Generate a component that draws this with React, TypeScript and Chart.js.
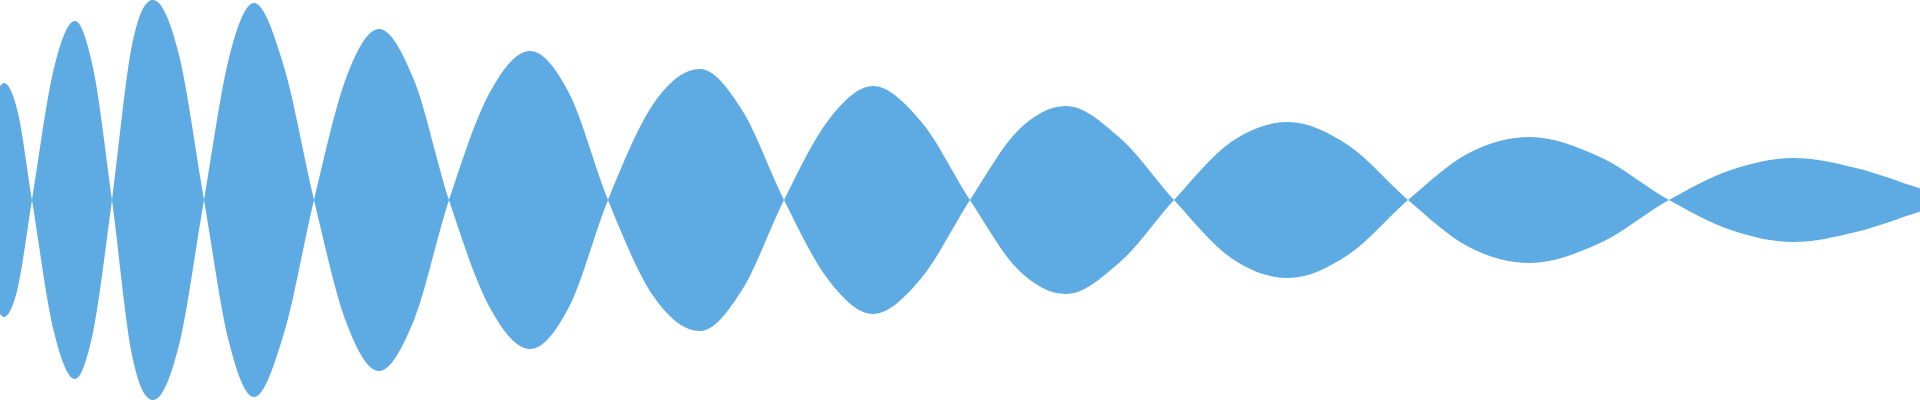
import React, { useEffect, useRef } from "react";
import { Chart, registerables } from "chart.js";

Chart.register(...registerables);

// Sample positions along the horizontal axis (crossings, half-way points and crests)
const positions: number[] = [
  0, 4, 18, 32,
  54, 75, 93.5, 112,
  132, 153, 178.5, 204,
  229, 254, 284, 314,
  346.5, 379, 414, 449,
  489.5, 530, 569, 608,
  654, 700, 742, 784,
  828.5, 873, 921.5, 970,
  1018.5, 1066, 1120, 1174,
  1231, 1288, 1348, 1408,
  1469, 1530, 1600, 1669,
  1731, 1793, 1856, 1920,
];

// Signed wave value at each position
const waveValues: number[] = [
  114, 117, 87, 0,
  -132, -179, -130, 0,
  155, 200, 147, 0,
  -142, -197, -133, 0,
  123, 171, 120, 0,
  -107, -149, -107, 0,
  97, 131, 90, 0,
  -80, -114, -78, 0,
  70, 94, 62, 0,
  -58, -78, -55, 0,
  47, 63, 43, 0,
  -30, -42, -32, -11.5,
];

const mirroredValues: number[] = waveValues.map((v) => -v);

const FILL_COLOR = "#5DABE2";

export default function App() {
  const canvasRef = useRef<HTMLCanvasElement | null>(null);

  useEffect(() => {
    if (!canvasRef.current) return;
    const toPoints = (vals: number[]) =>
      vals.map((v, i) => ({ x: positions[i], y: v }));
    const chart = new Chart(canvasRef.current, {
      type: "line",
      data: {
        datasets: [
          {
            label: "wave",
            data: toPoints(waveValues),
            fill: "origin",
            backgroundColor: FILL_COLOR,
            borderWidth: 0,
            borderColor: FILL_COLOR,
            pointRadius: 0,
            cubicInterpolationMode: "monotone",
          },
          {
            label: "mirror",
            data: toPoints(mirroredValues),
            fill: "origin",
            backgroundColor: FILL_COLOR,
            borderWidth: 0,
            borderColor: FILL_COLOR,
            pointRadius: 0,
            cubicInterpolationMode: "monotone",
          },
        ],
      },
      options: {
        animation: false,
        responsive: true,
        maintainAspectRatio: false,
        layout: { padding: 0 },
        plugins: {
          legend: { display: false },
          tooltip: { enabled: false },
        },
        scales: {
          x: { type: "linear", min: 0, max: 1920, display: false },
          y: { type: "linear", min: -200, max: 200, display: false },
        },
      },
    });
    return () => chart.destroy();
  }, []);

  return (
    <div
      style={{
        position: "fixed",
        left: 0,
        top: 0,
        width: "1920px",
        height: "400px",
        background: "#ffffff",
      }}
    >
      <canvas ref={canvasRef} />
    </div>
  );
}
